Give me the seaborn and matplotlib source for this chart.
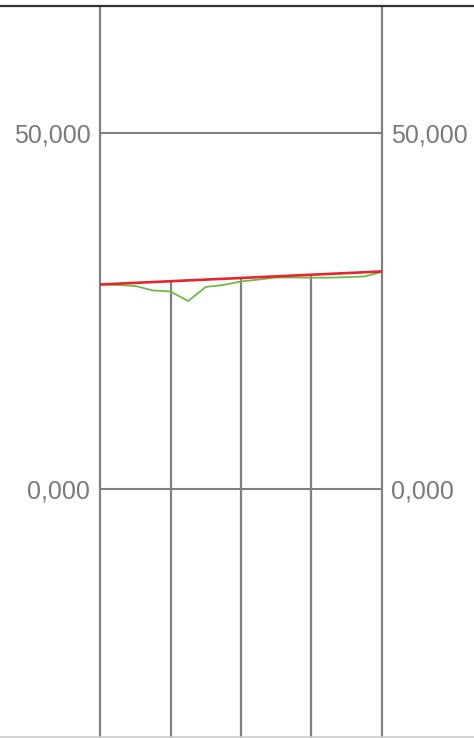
import numpy as np
import pandas as pd
import matplotlib
matplotlib.use("Agg")
import matplotlib.pyplot as plt
import seaborn as sns

# ---------------------------------------------------
# data
# ---------------------------------------------------
steps = list(range(17))
actual = [28720, 28650, 28510, 27880, 27740, 26400, 28370, 28650, 29140,
          29420, 29700, 29700, 29680, 29680, 29750, 29850, 30480]
trend_x = [0, 16]
trend_y = [28720, 30550]
grid_x = [0, 4, 8, 12, 16]
ytick_vals = [0, 50000]
ytick_labels = ["0,000", "50,000"]

df = pd.DataFrame({"step": steps, "value": actual})
df_trend = pd.DataFrame({"step": trend_x, "value": trend_y})

# ---------------------------------------------------
# figure
# ---------------------------------------------------
sns.set_style("white")
plt.rcParams["font.family"] = ["Liberation Sans", "DejaVu Sans"]

W, H = 474, 738
fig = plt.figure(figsize=(W / 100, H / 100), dpi=100)
ax = fig.add_axes([100 / W, 0, 282 / W, (H - 5.5) / H])

ymin, ymax = -34970, 67900
ax.set_xlim(0, 16)
ax.set_ylim(ymin, ymax)

grey = "#808080"
# vertical lines: outer ones full height, inner ones up to the trend line
for gx in grid_x:
    if gx in (grid_x[0], grid_x[-1]):
        top = ymax
    else:
        top = np.interp(gx, trend_x, trend_y)
    ax.vlines(gx, ymin, top, color=grey, lw=1.6, zorder=1, clip_on=False)

# horizontal grid lines
ax.hlines(ytick_vals, 0, 16, color=grey, lw=1.5, zorder=1)

sns.lineplot(data=df, x="step", y="value", ax=ax, color="#6dbb45", lw=1.3, zorder=3)
sns.lineplot(data=df_trend, x="step", y="value", ax=ax, color="#e8242c", lw=1.9, zorder=4)

ax.set_xticks([])
ax.set_yticks([])
ax.set_xlabel("")
ax.set_ylabel("")
for s in ax.spines.values():
    s.set_visible(False)

# tick labels on both sides
for v, lab in zip(ytick_vals, ytick_labels):
    ax.text(-0.55, v - 400, lab, ha="right", va="center", fontsize=18,
            color="#7a7a7a", clip_on=False)
    ax.text(16.5, v - 400, lab, ha="left", va="center", fontsize=18,
            color="#7a7a7a", clip_on=False)

# top and bottom border lines across the whole figure
fig.add_artist(plt.Line2D([0, 1], [1 - 5.5 / H, 1 - 5.5 / H], color="#333333", lw=1.6,
                          transform=fig.transFigure))
fig.add_artist(plt.Line2D([0, 1], [0.8 / H, 0.8 / H], color="#cccccc", lw=1.2,
                          transform=fig.transFigure))

fig.savefig("out.png", dpi=100)
